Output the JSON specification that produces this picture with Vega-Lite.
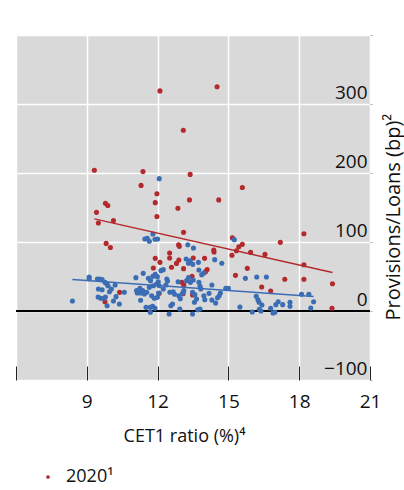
{
  "$schema": "https://vega.github.io/schema/vega-lite/v6.json",
  "width": 354,
  "height": 345,
  "autosize": {"type": "none"},
  "padding": {"left": 16, "top": 35, "right": 34, "bottom": 110},
  "background": "white",
  "config": {
    "view": {"fill": "#d9d9d9", "stroke": null},
    "font": "Open Sans",
    "axis": {"labelFont": "Open Sans", "titleFont": "Open Sans", "labelColor": "#111", "titleColor": "#111", "titleFontWeight": "normal"},
    "legend": {"labelFont": "Open Sans"}
  },
  "datasets": {
    "pts": [
      {"s": "2020", "x": 12.1, "y": 319},
      {"s": "2020", "x": 14.52, "y": 325},
      {"s": "2020", "x": 13.09, "y": 262},
      {"s": "2020", "x": 9.32, "y": 204},
      {"s": "2020", "x": 11.38, "y": 202},
      {"s": "2020", "x": 13.38, "y": 198},
      {"s": "2020", "x": 11.3, "y": 182},
      {"s": "2020", "x": 15.59, "y": 179},
      {"s": "2020", "x": 11.97, "y": 170},
      {"s": "2020", "x": 13.35, "y": 161},
      {"s": "2020", "x": 14.59, "y": 161},
      {"s": "2020", "x": 11.9, "y": 157},
      {"s": "2020", "x": 9.79, "y": 156},
      {"s": "2020", "x": 9.89, "y": 153},
      {"s": "2020", "x": 12.86, "y": 149},
      {"s": "2020", "x": 9.41, "y": 143},
      {"s": "2020", "x": 11.97, "y": 137},
      {"s": "2020", "x": 10.13, "y": 131},
      {"s": "2020", "x": 9.49, "y": 127.5},
      {"s": "2020", "x": 13.1, "y": 114},
      {"s": "2020", "x": 18.2, "y": 112},
      {"s": "2020", "x": 15.17, "y": 106},
      {"s": "2020", "x": 9.82, "y": 98},
      {"s": "2020", "x": 10.0, "y": 92},
      {"s": "2020", "x": 15.59, "y": 96.6},
      {"s": "2020", "x": 15.44, "y": 93.2},
      {"s": "2020", "x": 15.34, "y": 87.4},
      {"s": "2020", "x": 15.15, "y": 80.7},
      {"s": "2020", "x": 15.94, "y": 85},
      {"s": "2020", "x": 16.55, "y": 82},
      {"s": "2020", "x": 17.2, "y": 99.5},
      {"s": "2020", "x": 12.89, "y": 96},
      {"s": "2020", "x": 12.92, "y": 93.7},
      {"s": "2020", "x": 12.51, "y": 84},
      {"s": "2020", "x": 12.51, "y": 76.8},
      {"s": "2020", "x": 11.9, "y": 76.3},
      {"s": "2020", "x": 12.1, "y": 70.5},
      {"s": "2020", "x": 12.59, "y": 63.3},
      {"s": "2020", "x": 12.9, "y": 73.9},
      {"s": "2020", "x": 12.8, "y": 69},
      {"s": "2020", "x": 13.1, "y": 61.4},
      {"s": "2020", "x": 11.82, "y": 62.3},
      {"s": "2020", "x": 14.38, "y": 88.4},
      {"s": "2020", "x": 14.39, "y": 85.5},
      {"s": "2020", "x": 13.99, "y": 76.3},
      {"s": "2020", "x": 13.51, "y": 76.8},
      {"s": "2020", "x": 14.1, "y": 60},
      {"s": "2020", "x": 14.03, "y": 57},
      {"s": "2020", "x": 13.46, "y": 50.2},
      {"s": "2020", "x": 13.03, "y": 41.5},
      {"s": "2020", "x": 13.11, "y": 37.7},
      {"s": "2020", "x": 13.08, "y": 25},
      {"s": "2020", "x": 13.48, "y": 23.2},
      {"s": "2020", "x": 10.39, "y": 27},
      {"s": "2020", "x": 9.77, "y": 13.5},
      {"s": "2020", "x": 12.07, "y": 25.6},
      {"s": "2020", "x": 18.2, "y": 67},
      {"s": "2020", "x": 19.41, "y": 39.6},
      {"s": "2020", "x": 15.8, "y": 61.8},
      {"s": "2020", "x": 15.3, "y": 51.7},
      {"s": "2020", "x": 17.39, "y": 46},
      {"s": "2020", "x": 18.2, "y": 46},
      {"s": "2020", "x": 16.41, "y": 34.8},
      {"s": "2020", "x": 16.79, "y": 29},
      {"s": "2020", "x": 19.39, "y": 3.9},
      {"s": "2019", "x": 8.39, "y": 14.5},
      {"s": "2019", "x": 9.1, "y": 49.3},
      {"s": "2019", "x": 9.1, "y": 46.9},
      {"s": "2019", "x": 9.45, "y": 46.4},
      {"s": "2019", "x": 9.55, "y": 46.4},
      {"s": "2019", "x": 9.65, "y": 45.4},
      {"s": "2019", "x": 9.77, "y": 41.5},
      {"s": "2019", "x": 9.85, "y": 39.1},
      {"s": "2019", "x": 9.9, "y": 36.7},
      {"s": "2019", "x": 9.49, "y": 31.9},
      {"s": "2019", "x": 9.65, "y": 30.9},
      {"s": "2019", "x": 10.04, "y": 31.9},
      {"s": "2019", "x": 9.96, "y": 28},
      {"s": "2019", "x": 10.2, "y": 37.7},
      {"s": "2019", "x": 9.48, "y": 20.3},
      {"s": "2019", "x": 9.59, "y": 18.4},
      {"s": "2019", "x": 9.72, "y": 18.4},
      {"s": "2019", "x": 9.79, "y": 20.3},
      {"s": "2019", "x": 9.86, "y": 7.7},
      {"s": "2019", "x": 10.13, "y": 14.5},
      {"s": "2019", "x": 10.24, "y": 20.8},
      {"s": "2019", "x": 10.38, "y": 10.1},
      {"s": "2019", "x": 10.59, "y": 27.1},
      {"s": "2019", "x": 11.08, "y": 48.3},
      {"s": "2019", "x": 11.39, "y": 54.6},
      {"s": "2019", "x": 11.11, "y": 29.5},
      {"s": "2019", "x": 11.14, "y": 26.1},
      {"s": "2019", "x": 11.21, "y": 29.5},
      {"s": "2019", "x": 11.28, "y": 26.1},
      {"s": "2019", "x": 11.37, "y": 29.5},
      {"s": "2019", "x": 11.44, "y": 24.6},
      {"s": "2019", "x": 11.28, "y": 15.5},
      {"s": "2019", "x": 11.51, "y": 5.3},
      {"s": "2019", "x": 11.54, "y": 27.1},
      {"s": "2019", "x": 11.65, "y": 34.3},
      {"s": "2019", "x": 11.7, "y": 44},
      {"s": "2019", "x": 11.8, "y": 50.2},
      {"s": "2019", "x": 11.9, "y": 53.1},
      {"s": "2019", "x": 11.99, "y": 49.8},
      {"s": "2019", "x": 11.82, "y": 36.7},
      {"s": "2019", "x": 11.96, "y": 39.1},
      {"s": "2019", "x": 12.03, "y": 42.5},
      {"s": "2019", "x": 12.07, "y": 36.7},
      {"s": "2019", "x": 11.75, "y": 22.2},
      {"s": "2019", "x": 11.86, "y": 18.4},
      {"s": "2019", "x": 11.99, "y": 19.8},
      {"s": "2019", "x": 12.04, "y": 26.1},
      {"s": "2019", "x": 11.69, "y": 5.3},
      {"s": "2019", "x": 11.79, "y": 6.8},
      {"s": "2019", "x": 11.89, "y": 3.9},
      {"s": "2019", "x": 11.69, "y": -1.9},
      {"s": "2019", "x": 11.46, "y": 104.3},
      {"s": "2019", "x": 11.56, "y": 105.3},
      {"s": "2019", "x": 11.65, "y": 101},
      {"s": "2019", "x": 11.8, "y": 111.6},
      {"s": "2019", "x": 11.89, "y": 103.9},
      {"s": "2019", "x": 12.0, "y": 104.3},
      {"s": "2019", "x": 12.07, "y": 191.8},
      {"s": "2019", "x": 12.14, "y": 58.5},
      {"s": "2019", "x": 12.24, "y": 59.9},
      {"s": "2019", "x": 12.39, "y": 46.4},
      {"s": "2019", "x": 12.42, "y": 43.5},
      {"s": "2019", "x": 12.52, "y": 27.1},
      {"s": "2019", "x": 12.66, "y": 28},
      {"s": "2019", "x": 12.72, "y": 24.2},
      {"s": "2019", "x": 12.56, "y": 7.7},
      {"s": "2019", "x": 12.63, "y": 10.1},
      {"s": "2019", "x": 12.49, "y": -4.3},
      {"s": "2019", "x": 12.9, "y": 22.2},
      {"s": "2019", "x": 12.96, "y": 17.9},
      {"s": "2019", "x": 12.94, "y": 2.9},
      {"s": "2019", "x": 13.06, "y": 26.1},
      {"s": "2019", "x": 13.11, "y": 29.5},
      {"s": "2019", "x": 12.87, "y": 42.5},
      {"s": "2019", "x": 13.23, "y": 44},
      {"s": "2019", "x": 13.31, "y": 48.3},
      {"s": "2019", "x": 13.39, "y": 41.5},
      {"s": "2019", "x": 13.21, "y": 75.4},
      {"s": "2019", "x": 13.38, "y": 72.9},
      {"s": "2019", "x": 13.31, "y": 69.1},
      {"s": "2019", "x": 13.49, "y": 67.6},
      {"s": "2019", "x": 13.28, "y": 96.1},
      {"s": "2019", "x": 13.52, "y": 91.3},
      {"s": "2019", "x": 13.48, "y": -4.3},
      {"s": "2019", "x": 13.73, "y": 70.5},
      {"s": "2019", "x": 13.75, "y": 59.4},
      {"s": "2019", "x": 13.75, "y": 41.5},
      {"s": "2019", "x": 13.8, "y": 35.7},
      {"s": "2019", "x": 13.83, "y": 31.9},
      {"s": "2019", "x": 13.48, "y": 27.1},
      {"s": "2019", "x": 13.58, "y": 23.7},
      {"s": "2019", "x": 13.65, "y": 17.4},
      {"s": "2019", "x": 13.56, "y": 12.6},
      {"s": "2019", "x": 13.7, "y": 1.9},
      {"s": "2019", "x": 13.8, "y": 2.9},
      {"s": "2019", "x": 13.87, "y": 52.7},
      {"s": "2019", "x": 13.96, "y": 55.1},
      {"s": "2019", "x": 13.96, "y": 22.2},
      {"s": "2019", "x": 14.0, "y": 16.4},
      {"s": "2019", "x": 14.18, "y": 25.6},
      {"s": "2019", "x": 14.3, "y": 37.7},
      {"s": "2019", "x": 14.3, "y": 15.9},
      {"s": "2019", "x": 14.42, "y": 74.4},
      {"s": "2019", "x": 14.46, "y": 11.6},
      {"s": "2019", "x": 14.54, "y": 19.3},
      {"s": "2019", "x": 14.61, "y": 22.2},
      {"s": "2019", "x": 14.66, "y": 26.1},
      {"s": "2019", "x": 14.72, "y": 69.1},
      {"s": "2019", "x": 14.89, "y": 32.9},
      {"s": "2019", "x": 15.0, "y": 32.9},
      {"s": "2019", "x": 15.25, "y": 103.4},
      {"s": "2019", "x": 15.49, "y": 5.8},
      {"s": "2019", "x": 15.72, "y": 47.3},
      {"s": "2019", "x": 16.01, "y": -1.4},
      {"s": "2019", "x": 16.2, "y": 49.3},
      {"s": "2019", "x": 16.18, "y": 21.3},
      {"s": "2019", "x": 16.25, "y": 16.4},
      {"s": "2019", "x": 16.3, "y": 12.6},
      {"s": "2019", "x": 16.42, "y": 8.7},
      {"s": "2019", "x": 16.31, "y": 2.4},
      {"s": "2019", "x": 16.38, "y": 0},
      {"s": "2019", "x": 16.61, "y": 49.3},
      {"s": "2019", "x": 16.79, "y": 3.9},
      {"s": "2019", "x": 16.89, "y": -2.9},
      {"s": "2019", "x": 16.97, "y": -1.9},
      {"s": "2019", "x": 17.01, "y": 9.2},
      {"s": "2019", "x": 17.11, "y": 13.5},
      {"s": "2019", "x": 17.3, "y": 9.2},
      {"s": "2019", "x": 17.61, "y": 12.6},
      {"s": "2019", "x": 17.61, "y": 6.8},
      {"s": "2019", "x": 18.1, "y": 24.2},
      {"s": "2019", "x": 18.41, "y": 24.2},
      {"s": "2019", "x": 18.49, "y": 4.3},
      {"s": "2019", "x": 18.61, "y": 13.5},
      {"s": "2019", "x": 11.25, "y": 32.9},
      {"s": "2019", "x": 11.61, "y": 47.3},
      {"s": "2019", "x": 12.24, "y": 31.9},
      {"s": "2019", "x": 12.35, "y": 37.7},
      {"s": "2019", "x": 13.51, "y": 44.9}
    ]
  },
  "data": {"name": "pts"},
  "resolve": {"legend": {"color": "independent"}},
  "layer": [
    {
      "mark": {"type": "rule", "color": "#000", "strokeWidth": 1.5},
      "encoding": {"y": {"datum": 0, "type": "quantitative"}}
    },
    {
      "mark": {"type": "circle", "size": 26, "opacity": 1},
      "encoding": {
        "x": {
          "field": "x", "type": "quantitative",
          "scale": {"domain": [6, 21], "nice": false, "zero": false},
          "axis": {
            "values": [6, 9, 12, 15, 18, 21],
            "labelExpr": "datum.value == 6 ? '' : datum.label",
            "domain": false,
            "grid": true, "gridColor": "#ffffff", "gridWidth": 1.5,
            "ticks": true, "tickSize": -14, "tickColor": "#222", "tickWidth": 1,
            "labelFontSize": 19, "labelPadding": 41, "labelBaseline": "alphabetic", "labelFlush": false,
            "title": "CET1 ratio (%)⁴", "titleFontSize": 18,
            "titleAnchor": "middle", "titleX": 168, "titleY": 61, "titleBaseline": "alphabetic"
          }
        },
        "y": {
          "field": "y", "type": "quantitative",
          "scale": {"domain": [-100, 400], "nice": false, "zero": false},
          "axis": {
            "orient": "right",
            "values": [-100, 0, 100, 200, 300, 400],
            "labelExpr": "datum.value == 400 ? '' : datum.value < 0 ? '−100' : datum.label",
            "format": "d",
            "domain": false,
            "grid": true, "gridColor": "#ffffff", "gridWidth": 1.5,
            "ticks": true, "tickSize": 2, "tickColor": "#aaaaaa",
            "labelFontSize": 19, "labelAlign": "right", "labelBaseline": "alphabetic",
            "labelPadding": -5, "labelOffset": -6,
            "title": "Provisions/Loans (bp)²", "titleFontSize": 20,
            "titleAngle": 270, "titleX": 29, "titleY": 285, "titleAnchor": null, "titleAlign": "left", "titleBaseline": "alphabetic"
          }
        },
        "color": {
          "field": "s", "type": "nominal",
          "scale": {"domain": ["2020", "2019"], "range": ["#b3292c", "#3b6db5"]},
          "legend": {
            "values": ["2020"],
            "orient": "none", "legendX": 23, "legendY": 433,
            "title": null, "symbolType": "circle", "symbolSize": 14,
            "labelFontSize": 18, "labelOffset": 9, "labelColor": "#111",
            "labelExpr": "datum.label + '¹'", "padding": 0
          }
        }
      }
    },
    {
      "transform": [{"regression": "y", "on": "x", "groupby": ["s"]}],
      "mark": {"type": "line", "strokeWidth": 1.5},
      "encoding": {
        "x": {"field": "x", "type": "quantitative"},
        "y": {"field": "y", "type": "quantitative"},
        "color": {"field": "s", "type": "nominal", "legend": null}
      }
    }
  ]
}
